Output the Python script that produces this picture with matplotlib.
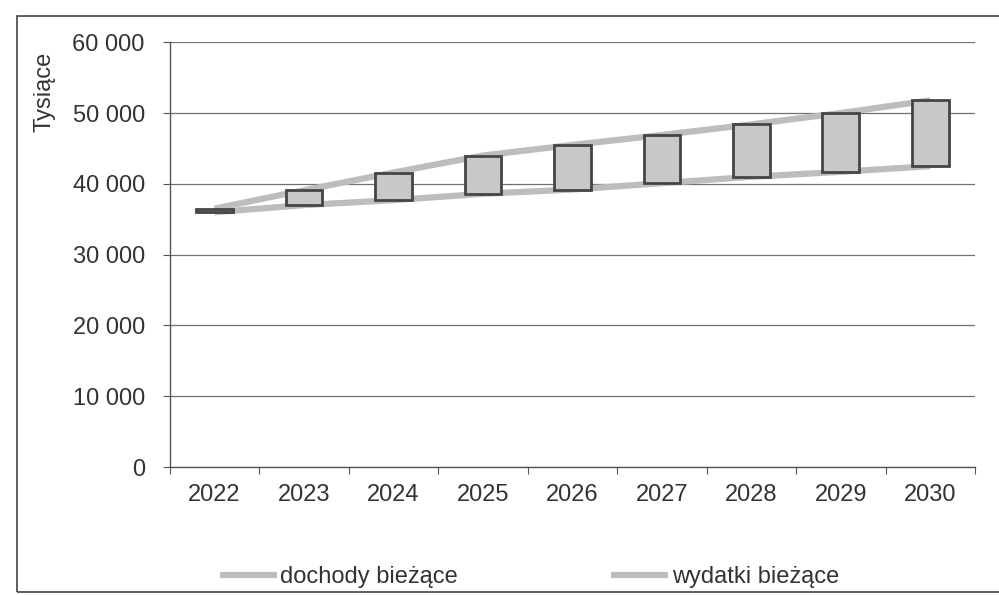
import matplotlib.pyplot as plt
from matplotlib.patches import Rectangle

years = ['2022', '2023', '2024', '2025', '2026', '2027', '2028', '2029', '2030']
dochody = [36500, 39100, 41600, 44000, 45500, 46900, 48400, 50000, 51800]
wydatki = [36000, 37000, 37700, 38600, 39200, 40100, 41000, 41700, 42500]
y_ticks = [0, 10000, 20000, 30000, 40000, 50000, 60000]
y_labels = ['0', '10 000', '20 000', '30 000', '40 000', '50 000', '60 000']

plt.rcParams['font.family'] = ['Liberation Sans', 'DejaVu Sans']
plt.rcParams['font.size'] = 17
plt.rcParams['text.color'] = '#333333'

fig = plt.figure(figsize=(9.99, 5.95), dpi=100)
ax = fig.add_axes([0.170, 0.215, 0.806, 0.714])

x = list(range(len(years)))
ax.plot(x, dochody, color='#bdbdbd', lw=4.5, solid_capstyle='butt', zorder=2, label='dochody bieżące')
ax.plot(x, wydatki, color='#bdbdbd', lw=4.5, solid_capstyle='butt', zorder=2, label='wydatki bieżące')

# up bars between the two series
diff = [d - w for d, w in zip(dochody, wydatki)]
ax.bar(x, diff, bottom=wydatki, width=0.41, color='#c8c8c8',
       edgecolor='#454545', lw=2.0, zorder=3)

ax.set_xlim(-0.5, len(years) - 0.5)
ax.set_ylim(0, 60000)
ax.set_yticks(y_ticks)
ax.set_yticklabels(y_labels)
ax.yaxis.grid(True, color='#707070', lw=0.9)
ax.set_axisbelow(True)

ax.set_xticks([i - 0.5 for i in range(len(years) + 1)])
ax.set_xticklabels([])
ax.set_xticks(x, minor=True)
ax.set_xticklabels(years, minor=True)
ax.tick_params(axis='x', which='major', length=5, color='#555555', direction='out')
ax.tick_params(axis='x', which='minor', length=0, pad=12, labelcolor='#333333')
ax.tick_params(axis='y', length=5, color='#555555', pad=13, labelcolor='#333333')

for s in ['top', 'right']:
    ax.spines[s].set_visible(False)
for s in ['left', 'bottom']:
    ax.spines[s].set_color('#555555')
    ax.spines[s].set_linewidth(1.0)

fig.text(0.045, 0.845, 'Tysiące', rotation=90, ha='center', va='center')

fig.legend(loc='center', bbox_to_anchor=(0.53, 0.03), ncol=2, frameon=False,
           handlelength=2.4, handletextpad=0.15, columnspacing=6.5,
           borderpad=0, fontsize=17)

fig.patches.append(Rectangle((0.017, 0.005), 1.0, 0.968, transform=fig.transFigure,
                             fill=False, edgecolor='#444444', lw=1.2))

fig.savefig('out.png', dpi=100)
